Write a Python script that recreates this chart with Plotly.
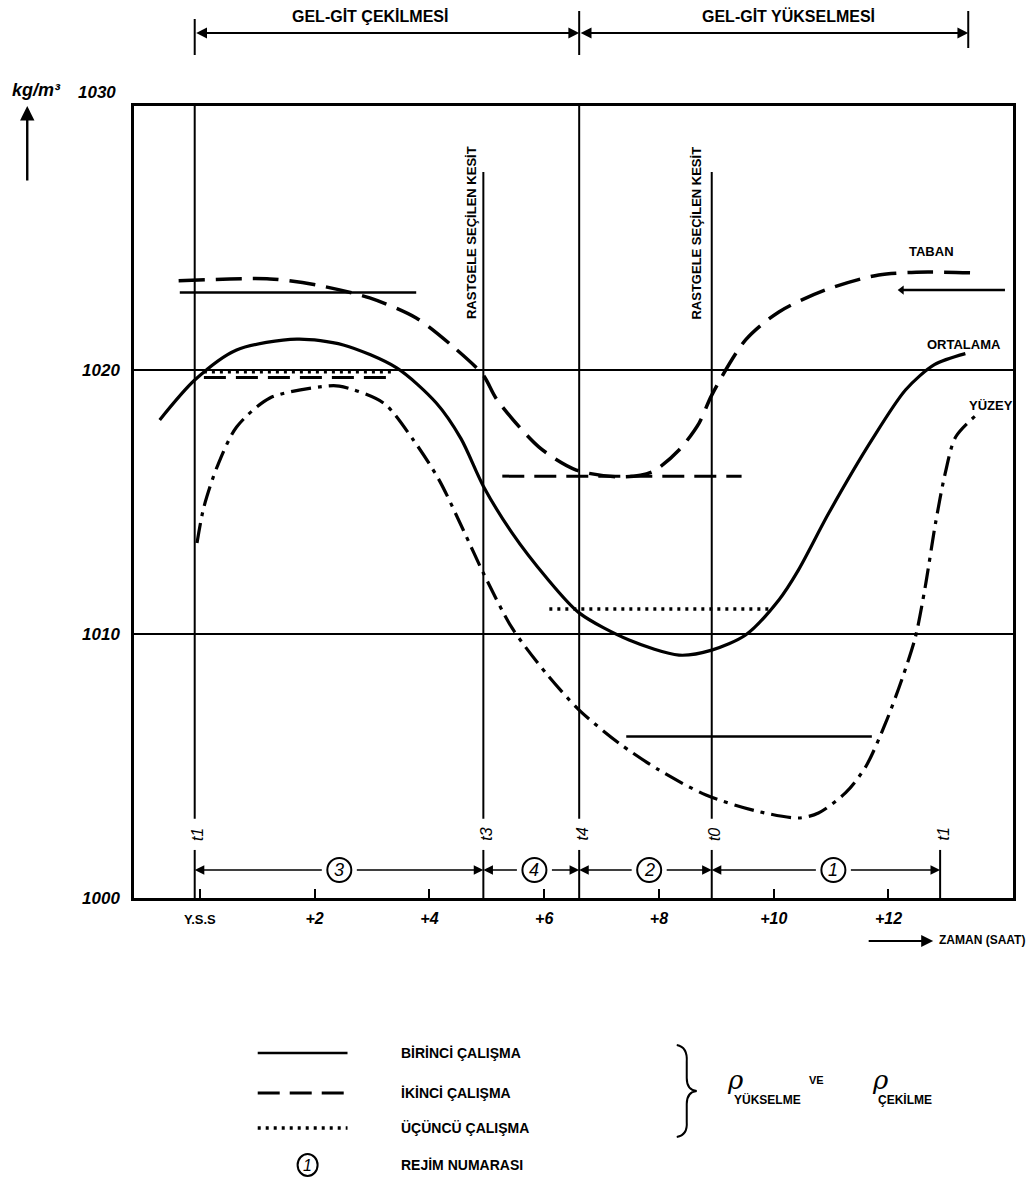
import plotly.graph_objects as go

# ---------------- data ----------------
# density curves (hours after high water, kg/m3)
TABAN_HOURS = [-0.37, 1.22, 2.03, 2.96, 3.77, 4.42, 4.94, 5.17, 5.91, 6.56, 7.36, 7.88, 8.35,
               8.70, 8.92, 9.51, 10.09, 10.90, 11.83, 12.70, 13.57]
TABAN_RHO = [1023.38, 1023.45, 1023.22, 1022.73, 1021.97, 1020.87, 1019.8, 1018.9, 1017.08,
             1016.21, 1015.95, 1016.14, 1016.97, 1017.99, 1019.05, 1021.14, 1022.2, 1023.03,
             1023.6, 1023.71, 1023.67]

ORTALAMA_HOURS = [-0.70, -0.09, 0.64, 1.69, 2.50, 3.43, 4.12, 4.55, 4.94, 5.44, 6.03, 6.61,
                  7.48, 8.35, 8.92, 9.51, 10.09, 10.43, 10.96, 11.71, 12.30, 12.80, 13.34]
ORTALAMA_RHO = [1018.11, 1019.62, 1020.76, 1021.17, 1020.95, 1020.08, 1018.75, 1017.4,
                1015.6, 1013.83, 1012.16, 1010.80, 1009.77, 1009.20, 1009.39, 1009.96,
                1011.29, 1012.42, 1014.58, 1017.35, 1019.25, 1020.2, 1020.62]

YUZEY_HOURS = [-0.05, 0.07, 0.30, 0.64, 1.22, 2.09, 2.43, 3.20, 3.72, 4.17, 4.59, 4.94, 5.44,
               6.03, 6.61, 7.30, 8.00, 8.82, 9.69, 10.43, 10.78, 11.25, 11.60, 11.95, 12.23,
               12.47, 12.64, 12.82, 12.99, 13.17, 13.57]
YUZEY_RHO = [1013.45, 1014.81, 1016.33, 1017.84, 1018.94, 1019.36, 1019.39, 1018.75, 1017.35,
             1015.83, 1013.94, 1012.31, 1010.23, 1008.52, 1007.12, 1005.87, 1004.85, 1003.90,
             1003.30, 1003.03, 1003.22, 1003.98, 1004.96, 1006.63, 1008.26, 1009.89, 1011.78,
             1014.20, 1016.10, 1017.46, 1018.37]

# rho_yukselme / rho_cekilme levels of the three studies
BIRINCI_START = [-0.35, 7.43, 12.23]
BIRINCI_END = [3.77, 11.71, 14.03]
BIRINCI_RHO = [1022.94, 1006.12, 1023.03]
IKINCI_START = [0.07, 5.27]
IKINCI_END = [3.37, 9.44]
IKINCI_RHO = [1019.72, 1015.98]
UCUNCU_START = [0.07, 6.09]
UCUNCU_END = [3.37, 9.97]
UCUNCU_RHO = [1019.93, 1010.95]

# time marks and regimes
T_LABELS = ["t1", "t3", "t4", "t0", "t1"]
T_HOURS = [-0.09, 4.94, 6.61, 8.92, 12.90]
T_LINE_TOP = [1030.0, 1027.5, 1030.0, 1027.5, None]
T_LINE_BOTTOM = 1003.0
T_TICK_TOP = 1001.82
REGIME_NUMBERS = ["3", "4", "2", "1"]
REGIME_CENTERS = [2.43, 5.83, 7.83, 11.04]
REGIME_RHO = 1001.06

HEADER_MARKS = [-0.09, 6.61, 13.39]
HEADER_TEXTS = ["GEL-GİT ÇEKİLMESİ", "GEL-GİT YÜKSELMESİ"]
HEADER_TEXT_HOURS = [2.96, 10.26]

X_TICKS = [0, 2, 4, 6, 8, 10, 12]
X_TICK_TEXT = ["Y.S.S", "+2", "+4", "+6", "+8", "+10", "+12"]
Y_TICKS = [1000, 1010, 1020]
Y_TOP_LABEL = "1030"

CURVE_LABELS = ["TABAN", "ORTALAMA", "YÜZEY"]
CURVE_LABEL_HOURS = [12.75, 13.32, 13.79]
CURVE_LABEL_RHO = [1024.47, 1020.95, 1018.67]

KESIT_HOURS = [4.73, 8.66]
KESIT_RHO = 1025.2

LEGEND_TEXTS = ["BİRİNCİ ÇALIŞMA", "İKİNCİ ÇALIŞMA", "ÜÇÜNCÜ ÇALIŞMA", "REJİM NUMARASI"]

# ---------------- layout geometry ----------------
FIG_W, FIG_H = 1028, 1187
M_L, M_R, M_T, M_B = 134, 13, 106, 289
X_RANGE = [-1.148, 14.17]
Y_RANGE = [1000, 1030]
FONT = "Liberation Sans Narrow, Liberation Sans, Arial, sans-serif"
BLACK = "black"


def px(x):
    return (x - M_L) / (FIG_W - M_L - M_R)


def py(y):
    return (FIG_H - M_B - y) / (FIG_H - M_T - M_B)


def note(x, y, text, size, xref="paper", yref="paper", xanchor="center", family=FONT, **kw):
    d = dict(x=x, y=y, xref=xref, yref=yref, text=text, showarrow=False, xanchor=xanchor,
             yanchor="middle", font=dict(family=family, size=size, color=BLACK))
    d.update(kw)
    return d


fig = go.Figure()

DASH_TABAN = "26px,11px"
DASH_YUZEY = "20px,7px,4px,7px"
DASH_IKINCI = "22px,10px"
DASH_UCUNCU = "3px,5px"

fig.add_trace(go.Scatter(x=TABAN_HOURS, y=TABAN_RHO, mode="lines",
                         line=dict(color=BLACK, width=3.5, dash=DASH_TABAN, shape="spline", smoothing=0.8)))
fig.add_trace(go.Scatter(x=ORTALAMA_HOURS, y=ORTALAMA_RHO, mode="lines",
                         line=dict(color=BLACK, width=3.2, shape="spline", smoothing=0.8)))
fig.add_trace(go.Scatter(x=YUZEY_HOURS, y=YUZEY_RHO, mode="lines",
                         line=dict(color=BLACK, width=3.2, dash=DASH_YUZEY, shape="spline", smoothing=0.8)))

for s, e, r in zip(BIRINCI_START, BIRINCI_END, BIRINCI_RHO):
    fig.add_trace(go.Scatter(x=[s, e], y=[r, r], mode="lines", line=dict(color=BLACK, width=2.5)))
# arrow head on the right-hand solid level
fig.add_trace(go.Scatter(x=[BIRINCI_START[-1]], y=[BIRINCI_RHO[-1]], mode="markers",
                         marker=dict(symbol="triangle-left", size=8, color=BLACK)))
for s, e, r in zip(IKINCI_START, IKINCI_END, IKINCI_RHO):
    fig.add_trace(go.Scatter(x=[s, e], y=[r, r], mode="lines", line=dict(color=BLACK, width=3, dash=DASH_IKINCI)))
for s, e, r in zip(UCUNCU_START, UCUNCU_END, UCUNCU_RHO):
    fig.add_trace(go.Scatter(x=[s, e], y=[r, r], mode="lines", line=dict(color=BLACK, width=3.5, dash=DASH_UCUNCU)))

shapes = []
annotations = []

# vertical time lines
for lab, h, top in zip(T_LABELS, T_HOURS, T_LINE_TOP):
    if top is not None:
        shapes.append(dict(type="line", xref="x", yref="y", x0=h, x1=h, y0=T_LINE_BOTTOM, y1=top,
                           line=dict(color=BLACK, width=2)))
    shapes.append(dict(type="line", xref="x", yref="y", x0=h, x1=h, y0=Y_RANGE[0], y1=T_TICK_TOP,
                       line=dict(color=BLACK, width=2)))
    annotations.append(note(h, (T_LINE_BOTTOM + T_TICK_TOP) / 2, "<i>" + lab + "</i>", 16,
                            xref="x", yref="y", xshift=3, textangle=-90))

# regime arrows and circles
for num, c, i in zip(REGIME_NUMBERS, REGIME_CENTERS, range(len(REGIME_NUMBERS))):
    for tip in (T_HOURS[i], T_HOURS[i + 1]):
        annotations.append(dict(x=tip, y=REGIME_RHO, xref="x", yref="y", ax=c, ay=REGIME_RHO,
                                axref="x", ayref="y", text="", showarrow=True, arrowhead=2,
                                arrowsize=1.2, arrowwidth=1.6, arrowcolor=BLACK, startstandoff=16))
    shapes.append(dict(type="circle", xref="x", yref="y", xsizemode="pixel", ysizemode="pixel",
                       xanchor=c, yanchor=REGIME_RHO, x0=-12, x1=12, y0=-12, y1=12,
                       line=dict(color=BLACK, width=2), fillcolor="white"))
    annotations.append(note(c, REGIME_RHO, "<i>" + num + "</i>", 18, xref="x", yref="y"))

# header
for h, y0, y1 in zip(HEADER_MARKS, [py(55), py(55), py(48)], [py(19), py(11), py(11)]):
    shapes.append(dict(type="line", xref="x", yref="paper", x0=h, x1=h, y0=y0, y1=y1,
                       line=dict(color=BLACK, width=2)))
for i in range(2):
    annotations.append(dict(x=HEADER_MARKS[i + 1], y=py(33), xref="x", yref="paper",
                            ax=HEADER_MARKS[i], ay=0, axref="x", ayref="pixel", text="",
                            showarrow=True, arrowhead=2, arrowside="end+start", arrowsize=1.2,
                            arrowwidth=1.8, arrowcolor=BLACK))
    annotations.append(note(HEADER_TEXT_HOURS[i], py(16), "<b>" + HEADER_TEXTS[i] + "</b>", 16,
                            xref="x"))

# random sections text
for h in KESIT_HOURS:
    annotations.append(note(h, KESIT_RHO, "<b>RASTGELE SEÇİLEN KESİT</b>", 13, xref="x", yref="y",
                            textangle=-90))

# curve labels
for t, h, r in zip(CURVE_LABELS, CURVE_LABEL_HOURS, CURVE_LABEL_RHO):
    annotations.append(note(h, r, "<b>" + t + "</b>", 13, xref="x", yref="y"))

# y-axis unit, top value and arrow
annotations.append(note(px(36), py(90), "<b><i>kg/m³</i></b>", 18))
annotations.append(note(px(97), py(93), "<b><i>" + Y_TOP_LABEL + "</i></b>", 17))
annotations.append(dict(x=px(27), y=py(106), xref="paper", yref="paper", ax=0, ay=76,
                        text="", showarrow=True, arrowhead=2, arrowsize=1.2, arrowwidth=2.4,
                        arrowcolor=BLACK))

# time axis label
annotations.append(dict(x=px(935), y=py(941), xref="paper", yref="paper", ax=-66, ay=0,
                        text="", showarrow=True, arrowhead=2, arrowsize=1.2, arrowwidth=2,
                        arrowcolor=BLACK))
annotations.append(note(px(939), py(940), "<b>ZAMAN (SAAT)</b>", 12, xanchor="left"))

# legend
LEG_Y = [1053, 1093, 1128, 1165]
leg_styles = [dict(color=BLACK, width=2.5), dict(color=BLACK, width=3, dash=DASH_IKINCI),
              dict(color=BLACK, width=3.5, dash=DASH_UCUNCU)]
for y, st in zip(LEG_Y[:3], leg_styles):
    shapes.append(dict(type="line", xref="paper", yref="paper", x0=px(258), x1=px(348),
                       y0=py(y), y1=py(y), line=st))
shapes.append(dict(type="circle", xref="paper", yref="paper", xsizemode="pixel", ysizemode="pixel",
                   xanchor=px(308), yanchor=py(LEG_Y[3]), x0=-10, x1=10, y0=-11, y1=11,
                   line=dict(color=BLACK, width=2), fillcolor="white"))
annotations.append(note(px(308), py(LEG_Y[3]), "<i>1</i>", 16))
for y, t in zip(LEG_Y, LEGEND_TEXTS):
    annotations.append(note(px(400), py(y), "<b>" + t + "</b>", 14, xanchor="left"))

# brace and rho symbols
def P(x, y):
    return f"{px(x):.5f},{py(y):.5f}"

brace = (f"M {P(678,1045)} Q {P(689,1047)} {P(688,1062)} L {P(688,1078)} Q {P(688,1090)} {P(698,1091)} "
         f"Q {P(688,1092)} {P(688,1104)} L {P(688,1122)} Q {P(689,1135)} {P(678,1137)}")
shapes.append(dict(type="path", xref="paper", yref="paper", path=brace, line=dict(color=BLACK, width=2)))
for xr, sub in [(737, "YÜKSELME"), (882, "ÇEKİLME")]:
    annotations.append(note(px(xr), py(1080), "<i>ρ</i>", 26, family="DejaVu Serif"))
    annotations.append(note(px(xr - 4), py(1099), "<b>" + sub + "</b>", 12, xanchor="left"))
annotations.append(note(px(818), py(1080), "<b>VE</b>", 11))

x_tick_text = ["<b><span style='font-size:13px'>" + X_TICK_TEXT[0] + "</span></b>"] + \
              ["<b><i>" + t + "</i></b>" for t in X_TICK_TEXT[1:]]

fig.update_layout(
    width=FIG_W, height=FIG_H,
    margin=dict(l=M_L, r=M_R, t=M_T, b=M_B),
    paper_bgcolor="white", plot_bgcolor="white",
    showlegend=False,
    shapes=shapes, annotations=annotations,
    xaxis=dict(range=X_RANGE, showgrid=False, zeroline=False, showline=True, mirror=True,
               linecolor=BLACK, linewidth=2.5, tickvals=X_TICKS, ticktext=x_tick_text,
               ticks="inside", ticklen=9, tickwidth=2, tickcolor=BLACK,
               tickfont=dict(family=FONT, size=16, color=BLACK), ticklabelstandoff=4),
    yaxis=dict(range=Y_RANGE, showgrid=True, gridcolor=BLACK, gridwidth=1.6, zeroline=False,
               showline=True, mirror=True, linecolor=BLACK, linewidth=2.5, tickvals=Y_TICKS,
               ticktext=["<b><i>" + str(v) + "</i></b>" for v in Y_TICKS], ticks="",
               tickfont=dict(family=FONT, size=17, color=BLACK), ticklabelstandoff=8),
)

fig.write_html("out.html", config={"displayModeBar": False},
               post_script="document.body.style.margin='0';")
